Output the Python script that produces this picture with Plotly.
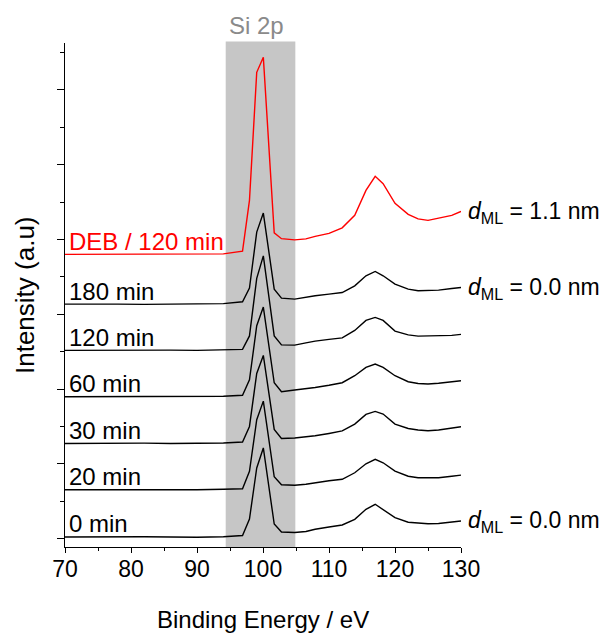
import plotly.graph_objects as go

# Binding energy sample points (eV)
energy = [70, 74, 78, 82, 86, 90, 94, 96.9, 97.95, 99.05, 100.05, 101.7, 102.8, 104.8,
          106.5, 107.9, 110, 112, 113.9, 115.6, 117, 118.2, 120, 122, 123.5, 125, 126.6,
          128.6, 130]

# Intensities above each spectrum's own baseline (a.u.)
deb_120 = [0, 0, 0.3, 0, 0.3, 0.3, 0.5, 3.3, 54, 182, 197, 21.5, 15.7, 14.5, 15.5, 18, 21,
           26.5, 39, 64, 78, 70.7, 51, 40, 35.5, 34, 36, 39, 43]
min_180 = [0, 0.3, 0, -0.3, 0, 0.2, 0.5, 2.3, 16, 72, 91, 15, 6, 5, 7, 8.3, 10, 11.6, 18.3,
           28.3, 32.6, 28.3, 20, 15, 13.3, 13.5, 14, 15.6, 16.6]
min_120 = [0, 0.2, -0.2, 0, 0.3, 0, 0.3, 1, 14.5, 72, 94.5, 14.5, 5.5, 5.3, 7.5, 9.3, 11,
           12.6, 20, 30, 33, 30, 19.3, 15.5, 14.3, 14.3, 14.3, 15, 16]
min_60 = [0, 0, 0.3, 0, 0.3, 0, 0.5, 1.5, 17, 71, 89.6, 14, 5, 6.7, 8, 9.3, 11.5, 14, 21,
          29.3, 32.7, 29.3, 21, 15, 13.3, 12.7, 13.5, 15, 16]
min_30 = [0, 0.3, 0, 0.3, 0, 0.3, 0.5, 1.5, 17, 70, 88, 14, 5, 5.4, 6.5, 7.7, 10, 12.5, 19.4,
          29, 32, 29.4, 19.4, 15, 13.5, 12.7, 13.5, 15.5, 16.7]
min_20 = [0, 0, 0.3, 0, -0.3, 0, 0.5, 1, 18.5, 70, 88.6, 13, 5, 4.5, 5.5, 7, 9, 10.5, 17, 26,
          30.4, 27, 18.7, 13.5, 12, 12, 12, 13.5, 14.7]
min_0 = [0, 0.3, 0, 0.3, 0, -0.3, 0.3, 1.5, 18, 69, 89, 13, 5, 4.5, 5.5, 7.7, 10, 12, 17.7,
         27.7, 32.7, 27.7, 19.3, 14.8, 14, 13.3, 13.5, 15, 16]

series_labels = ["DEB / 120 min", "180 min", "120 min", "60 min", "30 min", "20 min", "0 min"]
series_values = [deb_120, min_180, min_120, min_60, min_30, min_20, min_0]
series_offsets = [284.3, 234.6, 188.3, 142.0, 95.3, 49.0, 1.8]
series_colors = ["#ff0000", "#000000", "#000000", "#000000", "#000000", "#000000", "#000000"]

# thickness annotations: (series index, text)
thickness_labels = [(0, "1.1 nm"), (1, "0.0 nm"), (6, "0.0 nm")]

si2p_band = [94.35, 104.9]

FONT = "Arial, Liberation Sans, sans-serif"

fig = go.Figure()

for lab, vals, off, col in zip(series_labels, series_values, series_offsets, series_colors):
    fig.add_trace(go.Scatter(
        x=energy, y=[v + off for v in vals], mode="lines",
        line=dict(color=col, width=1.4), name=lab, showlegend=False,
        hoverinfo="skip", cliponaxis=False))

annotations = []
for lab, off, col in zip(series_labels, series_offsets, series_colors):
    annotations.append(dict(x=70.3, y=off + 13, xref="x", yref="y", text=lab,
                            showarrow=False, xanchor="left", yanchor="middle",
                            font=dict(family=FONT, size=24, color=col)))

for idx, txt in thickness_labels:
    yv = series_values[idx][-1] + series_offsets[idx]
    annotations.append(dict(x=1.0125, y=yv - 1, xref="paper", yref="y",
                            text="<i>d</i><sub>ML</sub> = " + txt,
                            showarrow=False, xanchor="left", yanchor="middle",
                            font=dict(family=FONT, size=23, color="#000000")))

annotations.append(dict(x=99.0, y=1.035, xref="x", yref="paper", text="Si 2p",
                        showarrow=False, xanchor="center", yanchor="middle",
                        font=dict(family=FONT, size=24, color="#8a8a8a")))
annotations.append(dict(x=0.5, y=-0.144, xref="paper", yref="paper",
                        text="Binding Energy / eV", showarrow=False,
                        xanchor="center", yanchor="middle",
                        font=dict(family=FONT, size=24, color="#000000")))
annotations.append(dict(x=-0.101, y=0.5, xref="paper", yref="paper",
                        text="Intensity (a.u)", textangle=-90, showarrow=False,
                        xanchor="center", yanchor="middle",
                        font=dict(family=FONT, size=26, color="#000000")))

fig.add_shape(type="rect", xref="x", yref="paper", x0=si2p_band[0], x1=si2p_band[1],
              y0=-0.002, y1=1.003, fillcolor="#c6c6c6", line=dict(width=0), layer="below")

# page body has an 8px margin, so the figure is drawn 8px in from the top-left
fig.update_layout(
    width=599, height=625,
    margin=dict(l=57, r=146, t=35, b=86, autoexpand=False),
    paper_bgcolor="white", plot_bgcolor="white",
    annotations=annotations,
    showlegend=False,
)

fig.update_xaxes(
    range=[70, 130], tick0=70, dtick=10, ticks="outside", ticklen=5, tickwidth=1.3,
    tickcolor="black", showline=True, linecolor="black", linewidth=1.4,
    showgrid=False, zeroline=False, mirror=False, ticklabelstandoff=-4,
    tickfont=dict(family=FONT, size=23, color="black"),
    minor=dict(dtick=5, tick0=70, ticks="outside", ticklen=3, tickwidth=1.2,
               tickcolor="black", showgrid=False),
)
fig.update_yaxes(
    range=[-8.2, 495.6], tick0=0, dtick=74.8, ticks="outside", ticklen=7, tickwidth=1.3,
    tickcolor="black", showline=True, linecolor="black", linewidth=1.4,
    showgrid=False, zeroline=False, showticklabels=False, mirror=False,
    minor=dict(dtick=37.4, tick0=0, ticks="outside", ticklen=3.5, tickwidth=1.2,
               tickcolor="black", showgrid=False),
)

fig.write_html("out.html")
